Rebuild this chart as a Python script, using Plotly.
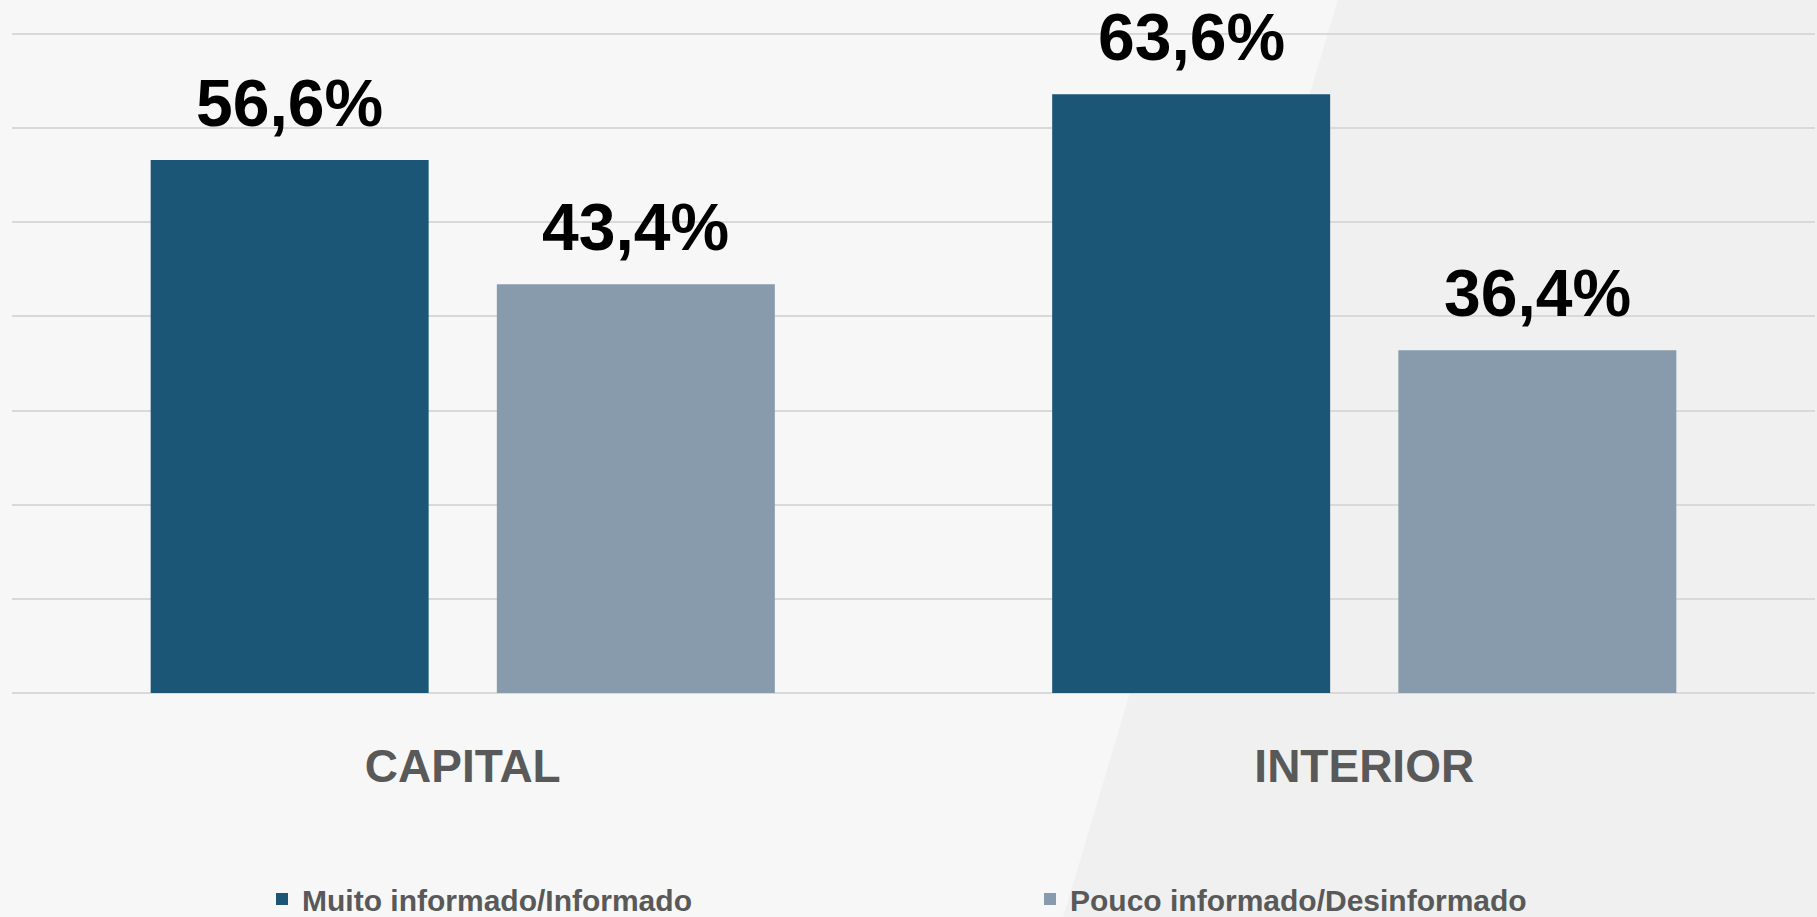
import plotly.graph_objects as go

categories = ["CAPITAL", "INTERIOR"]
series_names = ["Muito informado/Informado", "Pouco informado/Desinformado"]
muito = [56.6, 63.6]
pouco = [43.4, 36.4]
value_labels_muito = ["56,6%", "63,6%"]
value_labels_pouco = ["43,4%", "36,4%"]

dark = "#1b5677"
light = "#879bad"
W, H = 1817, 917

fig = go.Figure()
fig.add_trace(go.Bar(x=categories, y=muito, name=series_names[0],
                     marker=dict(color=dark, line=dict(width=0))))
fig.add_trace(go.Bar(x=categories, y=pouco, name=series_names[1],
                     marker=dict(color=light, line=dict(width=0))))

label_font = dict(family="Liberation Sans", size=66, color="#000000", weight="bold")
annotations = []
for cat, v, t in zip(categories, muito, value_labels_muito):
    annotations.append(dict(x=cat, y=v, text=t, xshift=-173, yshift=18, showarrow=False,
                            yanchor="bottom", font=label_font))
for cat, v, t in zip(categories, pouco, value_labels_pouco):
    annotations.append(dict(x=cat, y=v, text=t, xshift=173, yshift=18, showarrow=False,
                            yanchor="bottom", font=label_font))

# subtle diagonal background shading
shapes = [dict(type="path", xref="paper", yref="paper", layer="below",
               path="M 0.77 1.3 L 1.01 1.3 L 1.01 -0.35 L 0.58 -0.35 L 0.62 0.0 Z",
               fillcolor="#f0f0f0", line=dict(width=0))]

fig.update_layout(
    width=W, height=H,
    margin=dict(l=12, r=2, t=0, b=224),
    paper_bgcolor="#f7f7f7",
    plot_bgcolor="rgba(0,0,0,0)",
    barmode="group",
    bargap=0.232,
    bargroupgap=0.197,
    showlegend=True,
    legend=dict(orientation="h", xref="container", yref="container",
                x=262 / W, y=1 - 899 / H, xanchor="left", yanchor="middle",
                entrywidth=723, entrywidthmode="pixels",
                font=dict(family="Liberation Sans", size=30, color="#595959", weight="bold"),
                bgcolor="rgba(0,0,0,0)"),
    annotations=annotations,
    shapes=shapes,
    xaxis=dict(showgrid=False, showline=False, ticks="",
               tickfont=dict(family="Liberation Sans", size=46, color="#595959", weight="bold"),
               ticklabelstandoff=42),
    yaxis=dict(range=[0, 73.6], dtick=10, showticklabels=False,
               showgrid=True, gridcolor="#d9d9d9", gridwidth=2,
               zeroline=True, zerolinecolor="#d9d9d9", zerolinewidth=2),
)

fig.write_html("out.html")
